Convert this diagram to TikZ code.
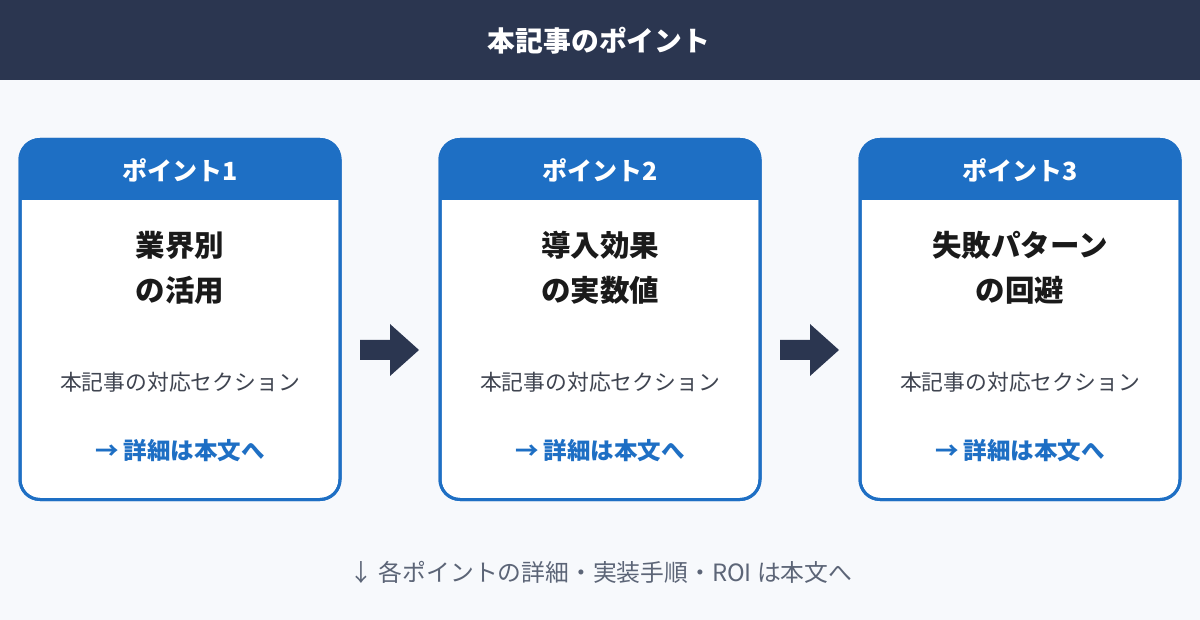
\documentclass[tikz,border=0pt]{standalone}
\usepackage{fontspec}
\setmainfont{Noto Sans CJK JP}
\definecolor{navy}{HTML}{2B3650}
\definecolor{bgc}{HTML}{F7F9FC}
\definecolor{blu}{HTML}{1E6FC4}
\definecolor{ink}{HTML}{1A1A1A}
\definecolor{gry}{HTML}{3F4450}
\definecolor{foot}{HTML}{5C6577}
\tikzset{
  cardbox/.style={draw=blu, line width=3pt, fill=white, rounded corners=20pt},
  headtxt/.style={text=white, font=\fontsize{25}{28}\selectfont\bfseries},
  maintxt/.style={text=ink, font=\fontsize{29.5}{45}\selectfont\bfseries, align=center},
  sectxt/.style={text=gry, font=\fontsize{21.8}{24}\selectfont},
  linktxt/.style={text=blu, font=\fontsize{23.5}{24}\selectfont\bfseries},
  bigarrow/.style={fill=navy, draw=none},
}
\begin{document}
\begin{tikzpicture}[x=1pt,y=-1pt]
\useasboundingbox (0,0) rectangle (1200,620);
\fill[bgc] (0,0) rectangle (1200,620);
\fill[navy] (0,0) rectangle (1200,80);
\node[text=white, font=\fontsize{27.8}{30}\selectfont\bfseries] (title) at (599,41) {本記事のポイント};
\foreach \i/\x/\a/\b in {1/20/業界別/の活用, 2/440/導入効果/の実数値, 3/860/失敗パターン/の回避}{
  \begin{scope}
  \draw[cardbox] (\x,139.5) rectangle ++(320,360);
  \clip[rounded corners=20pt] (\x,139.5) rectangle ++(320,360);
  \fill[blu] (\x,138) rectangle ++(320,62);
  \end{scope}
  \draw[cardbox, fill=none] (\x,139.5) rectangle ++(320,360);
  \node[headtxt] (h\i) at (\x+160,170) {ポイント\i};
  \node[maintxt] (m\i) at (\x+160,268) {\a\\\b};
  \node[sectxt] (s\i) at (\x+160,382) {本記事の対応セクション};
  \node[linktxt] (l\i) at (\x+160,451) {→ 詳細は本文へ};
}
\coordinate (a1) at (360,330);
\coordinate (a2) at (780,330);
\foreach \c in {a1,a2}{
  \fill[bigarrow] ([yshift=-10pt]\c) -- ++(30,0) -- ++(0,-16) -- ++(29,26) -- ++(-29,26) -- ++(0,-16) -- ++(-30,0) -- cycle;
}
\node[text=foot, font=\fontsize{23.8}{26}\selectfont] (foot) at (601,572) {↓ 各ポイントの詳細・実装手順・ROI は本文へ};
\end{tikzpicture}
\end{document}
